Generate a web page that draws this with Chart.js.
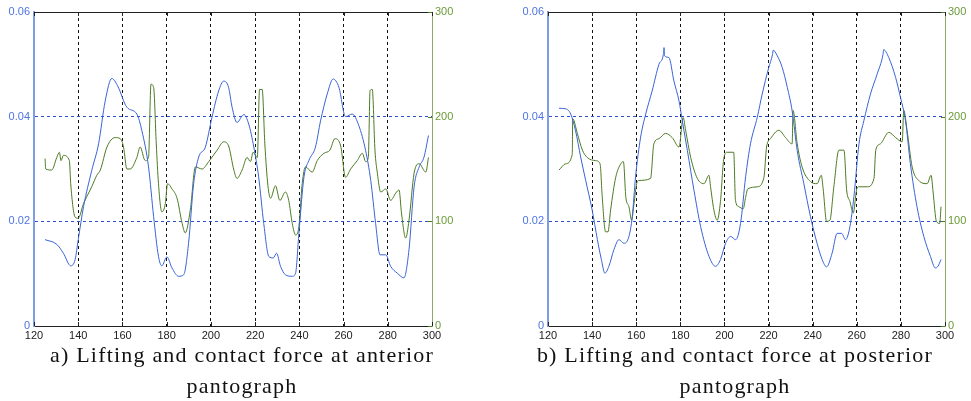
<!DOCTYPE html>
<html lang="en">
<head>
<meta charset="UTF-8">
<title>Lifting and contact force at pantographs</title>
<script src="https://cdn.jsdelivr.net/npm/chart.js"></script>
<style>
  body { margin: 0; background: #fff; width: 971px; height: 401px; position: relative; overflow: hidden; }
  .box { position: absolute; top: 0; height: 345px; }
  .caption { position: absolute; top: 339px; font: 22px "Liberation Serif", serif; letter-spacing: 1.2px; line-height: 31px; text-align: center; color: #111; white-space: nowrap; }
</style>
</head>
<body>
<div class="box" style="left:0;width:485px"><canvas id="chartA"></canvas></div>
<div class="box" style="left:485px;width:486px"><canvas id="chartB"></canvas></div>
<div class="caption" style="left:20px;width:444px">a) Lifting and contact force at anterior<br>pantograph</div>
<div class="caption" style="left:515px;width:440px">b) Lifting and contact force at posterior<br>pantograph</div>

<script>
  // axis ranges (tick labels)
  const xRange = [120, 300, 20];
  const liftRange = [0, 0.06, 0.02];
  const forceRange = [0, 300, 100];

  // a) anterior pantograph - lifting (m)
  const antLiftX = [125, 130.3, 133.3, 136.6, 138.6, 140, 142.4, 146.1, 149.2, 152.2, 155.2, 157.8, 162, 166.5, 168.8, 171.8, 174.1, 176.3, 177.8, 180.1, 182.4, 185.4, 187.7, 189.9, 192.2, 194.5, 197.5, 200.5, 203.5, 205.8, 208, 209.6, 211.8, 214.9, 217.1, 219.4, 221.6, 223.9, 226.2, 228.2, 229.7, 231.5, 233.7, 236.8, 238.3, 239.8, 242.1, 244.3, 247.3, 249.6, 252.6, 255.3, 257.9, 260.9, 263.9, 266.9, 270, 272.3, 274.5, 276.5, 279.1, 281.3, 284.3, 287.3, 289.6, 291.9, 294.2, 296.4, 298.4];
  const antLiftY = [0.0165, 0.0156, 0.0139, 0.0115, 0.0127, 0.0165, 0.0228, 0.0297, 0.0348, 0.043, 0.0473, 0.0459, 0.0418, 0.0405, 0.0373, 0.0304, 0.0209, 0.0133, 0.0115, 0.0132, 0.0111, 0.0095, 0.0098, 0.0158, 0.0272, 0.0323, 0.0342, 0.0399, 0.0449, 0.0468, 0.0456, 0.0418, 0.0389, 0.0404, 0.0386, 0.0342, 0.0285, 0.0196, 0.0133, 0.013, 0.0139, 0.0114, 0.0098, 0.0095, 0.0101, 0.0177, 0.0285, 0.0316, 0.0342, 0.0392, 0.0443, 0.0472, 0.0456, 0.04, 0.0405, 0.0383, 0.0335, 0.0278, 0.0196, 0.0136, 0.0136, 0.0114, 0.0101, 0.0092, 0.0146, 0.0266, 0.0304, 0.0323, 0.0364];

  // a) anterior pantograph - contact force (N)
  const antForceX = [125, 125.3, 128, 130.3, 131.5, 132.2, 133.3, 136, 136.6, 138.6, 140, 142.4, 146.1, 148.4, 150, 153, 156.7, 159, 160.5, 162, 163.5, 166.5, 168, 170.3, 171.8, 172.9, 174.1, 175.3, 176.3, 177.8, 179.4, 180.4, 182.4, 184.7, 187, 188.4, 190.7, 193, 196, 199, 202.8, 205.8, 208, 210.4, 211.8, 214.1, 216.4, 217.9, 219.1, 221, 222, 223.2, 224.4, 225.8, 227, 229.2, 231.2, 233.7, 235.2, 236.8, 238.3, 239.8, 241.3, 242.8, 245.8, 248.1, 251.1, 253.8, 256.1, 258.7, 260.9, 263.2, 266.2, 268.5, 270, 271.2, 272, 273, 274.2, 275.3, 276.8, 279.1, 281.3, 283.6, 285.1, 286.2, 288.1, 289.6, 291.9, 294.2, 297.2, 298.4];
  const antForceY = [160, 150, 149, 161, 166, 158, 163, 158, 136, 104, 103, 117, 133, 144, 149, 171, 180, 179, 171, 150, 150, 161, 171, 158, 161, 231, 228, 174, 136, 109, 117, 136, 131, 122, 98, 89, 111, 152, 150, 157, 168, 176, 172, 149, 141, 149, 161, 157, 166, 161, 226, 226, 174, 134, 122, 134, 120, 128, 120, 98, 87, 95, 136, 152, 147, 158, 165, 168, 179, 172, 142, 150, 158, 165, 157, 161, 225, 226, 168, 146, 128, 131, 120, 127, 130, 108, 84, 101, 146, 155, 147, 161];

  // b) posterior pantograph - lifting (m)
  const postLiftX = [125, 128, 130.3, 132.5, 134.8, 137.1, 140, 142.4, 144.2, 145.8, 147.6, 149.9, 152.2, 154.4, 156.7, 158.2, 159.7, 162, 164.3, 167.2, 170.3, 172.3, 172.6, 172.9, 174.8, 177.1, 179.4, 180.9, 183.2, 186.2, 189.2, 193, 196, 198.2, 200.5, 202.8, 205.1, 207.3, 209.6, 211.8, 214.9, 217.1, 220.1, 221.8, 222.1, 224, 226.2, 228.5, 230.7, 233, 236, 239, 242, 244.3, 246.3, 248.8, 251.1, 253.1, 254.9, 256.9, 258.7, 261, 263.2, 266.2, 269.2, 271.9, 272.2, 274.5, 277.6, 279.8, 282.1, 284.3, 287.3, 290.4, 293.4, 295.6, 296.8, 298.2];
  const postLiftY = [0.0416, 0.0415, 0.0405, 0.0373, 0.0323, 0.0278, 0.0222, 0.0165, 0.0127, 0.0101, 0.0114, 0.0146, 0.0165, 0.0158, 0.0171, 0.0209, 0.0285, 0.0361, 0.0405, 0.0449, 0.05, 0.0519, 0.0532, 0.0516, 0.0513, 0.0468, 0.043, 0.0392, 0.0335, 0.0259, 0.019, 0.0133, 0.0114, 0.0127, 0.0158, 0.0171, 0.0165, 0.0196, 0.0285, 0.0348, 0.0399, 0.0443, 0.0494, 0.0519, 0.0527, 0.0516, 0.0494, 0.0456, 0.0411, 0.0335, 0.0272, 0.0209, 0.0158, 0.0127, 0.0113, 0.0139, 0.0177, 0.0177, 0.0165, 0.019, 0.0247, 0.0348, 0.0392, 0.0443, 0.0481, 0.0519, 0.0528, 0.0513, 0.0475, 0.0437, 0.0392, 0.031, 0.0228, 0.0171, 0.0133, 0.0111, 0.0114, 0.0127];

  // b) posterior pantograph - contact force (N)
  const postForceX = [125, 128, 131, 131.2, 133.3, 135.6, 137.8, 141.6, 143.6, 144.6, 146.1, 147.2, 148.4, 150.7, 153, 154.2, 155.3, 156.7, 157.9, 159, 160.2, 161.2, 166.5, 168, 170.3, 173.3, 176.3, 179.4, 181.3, 182.4, 184.7, 187.7, 190.7, 193, 193.7, 195.2, 196.7, 198.2, 199.7, 201.2, 204.2, 205, 206.5, 208.5, 209.6, 210.6, 214.9, 217.9, 219.1, 220.9, 224.7, 227.7, 230.7, 231.1, 233, 235.2, 239, 242, 243.9, 244.8, 246.3, 247.8, 249.6, 251.9, 254.2, 255.4, 256.9, 258.4, 259.9, 261, 264.8, 267.8, 268.6, 270.7, 274.5, 277.6, 280.6, 281.3, 282.8, 285.1, 288.1, 291.9, 293.7, 294.6, 296.1, 297.6, 298.2];
  const postForceY = [149, 155, 164, 198, 184, 168, 161, 158, 155, 123, 90, 90, 111, 142, 155, 157, 123, 114, 101, 117, 136, 139, 141, 174, 179, 184, 180, 171, 199, 187, 161, 141, 136, 144, 133, 111, 101, 119, 160, 166, 166, 120, 114, 112, 123, 131, 133, 142, 171, 179, 187, 180, 174, 206, 174, 152, 138, 136, 144, 130, 100, 101, 133, 168, 168, 130, 119, 108, 130, 133, 133, 141, 168, 174, 185, 180, 176, 206, 187, 152, 139, 136, 144, 128, 100, 98, 114];

  const blue = '#3863d8';
  const green = '#4c7a22';
  const blueText = '#4d74e0';
  const greenText = '#6b9a38';

  const toPoints = (xs, ys) => xs.map((x, i) => ({ x: x, y: ys[i] }));

  // black top border and small inward MATLAB-style ticks
  const frame = {
    id: 'frame',
    afterDraw(chart) {
      const { ctx, chartArea: a, scales } = chart;
      ctx.save();
      ctx.lineWidth = 1;
      ctx.strokeStyle = '#222';
      ctx.beginPath();
      ctx.moveTo(a.left, a.top + 0.5);
      ctx.lineTo(a.right, a.top + 0.5);
      ctx.stroke();
      scales.x.ticks.forEach(t => {
        const px = Math.round(scales.x.getPixelForValue(t.value)) + 0.5;
        ctx.beginPath();
        ctx.moveTo(px, a.bottom); ctx.lineTo(px, a.bottom - 4);
        ctx.moveTo(px, a.top); ctx.lineTo(px, a.top + 4);
        ctx.stroke();
      });
      ctx.strokeStyle = green;
      scales.y1.ticks.forEach(t => {
        const py = Math.round(scales.y1.getPixelForValue(t.value)) + 0.5;
        ctx.beginPath();
        ctx.moveTo(a.right, py); ctx.lineTo(a.right - 4, py);
        ctx.stroke();
      });
      ctx.restore();
    }
  };

  function makeChart(id, liftX, liftY, forceX, forceY, rightWidth, leftWidth) {
    return new Chart(document.getElementById(id), {
      type: 'line',
      data: {
        datasets: [{
          data: toPoints(liftX, liftY),
          yAxisID: 'y',
          borderColor: blue,
          borderWidth: 1,
          pointRadius: 0,
          cubicInterpolationMode: 'monotone'
        }, {
          data: toPoints(forceX, forceY),
          yAxisID: 'y1',
          borderColor: green,
          borderWidth: 1,
          pointRadius: 0,
          cubicInterpolationMode: 'monotone'
        }]
      },
      options: {
        responsive: true,
        maintainAspectRatio: false,
        animation: false,
        layout: { padding: { top: 12, left: 0, right: 0, bottom: 0 } },
        plugins: { legend: { display: false }, tooltip: { enabled: false } },
        scales: {
          x: {
            type: 'linear',
            min: xRange[0], max: xRange[1],
            ticks: { stepSize: xRange[2], color: '#222', padding: 3, font: { family: 'Liberation Sans', size: 11 } },
            grid: {
              color: ctx => (ctx.tick && ctx.tick.value > xRange[0] && ctx.tick.value < xRange[1]) ? '#111' : 'rgba(0,0,0,0)',
              drawTicks: false
            },
            border: { color: '#222', width: 1, dash: [3, 3] },
            afterFit: s => { s.height = 19; }
          },
          y: {
            position: 'left',
            min: liftRange[0], max: liftRange[1],
            ticks: { stepSize: liftRange[2], color: blueText, padding: 4, font: { family: 'Liberation Sans', size: 11 } },
            grid: {
              color: ctx => (ctx.tick && ctx.tick.value > 0.001 && ctx.tick.value < 0.059) ? '#2e4fd0' : 'rgba(0,0,0,0)',
              drawTicks: false
            },
            border: { color: '#7f9de6', width: 2, dash: [3, 3] },
            afterFit: s => { s.width = leftWidth; }
          },
          y1: {
            position: 'right',
            min: forceRange[0], max: forceRange[1],
            ticks: { stepSize: forceRange[2], color: greenText, padding: 3, font: { family: 'Liberation Sans', size: 11 } },
            grid: { drawOnChartArea: false, drawTicks: false },
            border: { color: '#8aab66', width: 1 },
            afterFit: s => { s.width = rightWidth; }
          }
        }
      },
      plugins: [frame]
    });
  }

  makeChart('chartA', antLiftX, antLiftY, antForceX, antForceY, 53, 34);
  makeChart('chartB', postLiftX, postLiftY, postForceX, postForceY, 26, 63);
</script>
</body>
</html>
